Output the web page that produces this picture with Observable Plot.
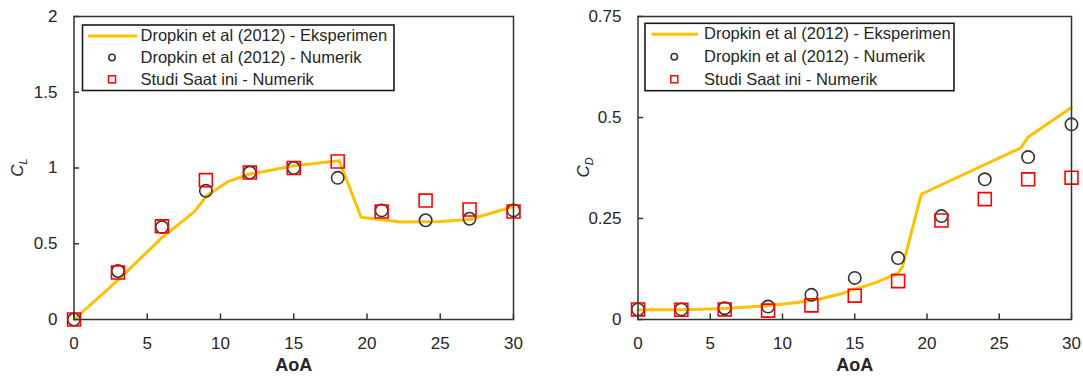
<!DOCTYPE html>
<html><head><meta charset="utf-8">
<script src="https://cdn.jsdelivr.net/npm/d3@7"></script>
<script src="https://cdn.jsdelivr.net/npm/@observablehq/plot@0.6"></script>
<style>
body{margin:0;background:#fff;font-family:"Liberation Sans",Arial,sans-serif;}
#wrap{position:relative;width:1083px;height:383px;overflow:hidden;background:#fff;}
.panel{position:absolute;top:0;}
</style></head><body>
<div id="wrap"><div id="p1" class="panel" style="left:0"></div><div id="p2" class="panel" style="left:540px"></div></div>
<script>
// ---- data ----
const aoa = [0, 3, 6, 9, 12, 15, 18, 21, 24, 27, 30];
const clDropkinNum = [0, 0.32, 0.61, 0.85, 0.97, 1.0, 0.935, 0.72, 0.655, 0.665, 0.72];
const clStudi = [0, 0.31, 0.615, 0.92, 0.97, 1.0, 1.043, 0.713, 0.785, 0.726, 0.713];
const clExpAoA = [0, 3, 6, 8.2, 9.1, 10.5, 11.8, 15, 18.1, 19.6, 22.3, 25, 27, 30];
const clExp = [0, 0.26, 0.54, 0.71, 0.82, 0.91, 0.955, 1.015, 1.048, 0.675, 0.643, 0.647, 0.66, 0.745];

const cdDropkinNum = [0.025, 0.025, 0.028, 0.032, 0.061, 0.103, 0.152, 0.256, 0.347, 0.402, 0.483];
const cdStudi = [0.025, 0.024, 0.025, 0.022, 0.035, 0.059, 0.095, 0.245, 0.298, 0.347, 0.351];
const cdExpAoA = [0, 3, 6, 9, 11, 12.5, 14, 15, 16.5, 18, 18.3, 19.6, 26.5, 27, 30];
const cdExp = [0.024, 0.024, 0.027, 0.034, 0.042, 0.05, 0.063, 0.075, 0.092, 0.115, 0.13, 0.31, 0.425, 0.452, 0.525];

const xTicks = [0, 5, 10, 15, 20, 25, 30];
const xTickLabels = ["0", "5", "10", "15", "20", "25", "30"];
const clTicks = [0, 0.5, 1, 1.5, 2];
const clTickLabels = ["0", "0.5", "1", "1.5", "2"];
const cdTicks = [0, 0.25, 0.5, 0.75];
const cdTickLabels = ["0", "0.25", "0.5", "0.75"];
const legendLabels = ["Dropkin et al (2012) - Eksperimen", "Dropkin et al (2012) - Numerik", "Studi Saat ini - Numerik"];
const xTitle = "AoA";

const colors = {exp: "#FFC000", num: "#333333", studi: "#FF0000", ink: "#262626", axis: "#333333"};
const FONT = "'Liberation Sans', Arial, sans-serif";

function makePanel(o) {
  const marginTop = 16, marginBottom = 64, height = 383;
  const innerW = o.width - o.marginLeft - o.marginRight;
  const innerH = height - marginTop - marginBottom;
  const expData = o.expX.map((x, i) => ({x, y: o.expY[i]}));
  const numData = aoa.map((x, i) => ({x, y: o.numY[i]}));
  const studiData = aoa.map((x, i) => ({x, y: o.studiY[i]}));
  const chart = Plot.plot({
    width: o.width, height, marginLeft: o.marginLeft, marginRight: o.marginRight, marginTop, marginBottom,
    style: {fontFamily: FONT, fontSize: "17px", color: colors.ink, background: "white", overflow: "visible"},
    x: {domain: [0, 30]},
    y: {domain: o.yDomain},
    marks: [
      Plot.axisX(xTicks, {tickSize: 0, tickPadding: 17, tickFormat: d => xTickLabels[xTicks.indexOf(d)], label: null}),
      Plot.axisY(o.yTicks, {tickSize: 0, tickPadding: 16.5, tickFormat: d => o.yTickLabels[o.yTicks.indexOf(d)], label: null}),
      Plot.tickX(xTicks, {x: d => d, insetTop: innerH - 5.5, stroke: colors.axis, strokeWidth: 1.5}),
      Plot.tickY(o.yTicks, {y: d => d, insetRight: innerW - 5.5, stroke: colors.axis, strokeWidth: 1.5}),
      Plot.line(expData, {x: "x", y: "y", stroke: colors.exp, strokeWidth: 3, strokeLinejoin: "round"}),
      Plot.dot(numData, {x: "x", y: "y", r: 6.2, stroke: colors.num, strokeWidth: 1.6, fill: "none"}),
      Plot.dot(studiData, {x: "x", y: "y", symbol: "square", r: 7.3, stroke: colors.studi, strokeWidth: 1.6, fill: "none"}),
      Plot.frame({stroke: colors.axis, strokeWidth: 1.5}),
      Plot.text([xTitle], {frameAnchor: "bottom", dy: 51, fontWeight: "bold", fontSize: 18, fill: colors.ink})
    ]
  });
  const svg = d3.select(chart);
  // y-axis title with subscript
  const t = svg.append("text")
    .attr("transform", `translate(${o.yLabelX},${marginTop + innerH / 2}) rotate(-90)`)
    .attr("text-anchor", "middle").attr("font-family", FONT).attr("font-size", 17)
    .attr("font-style", "italic").attr("fill", colors.ink);
  t.append("tspan").text(o.yLabelMain);
  t.append("tspan").attr("font-size", 11).attr("dy", "0.35em").text(o.yLabelSub);
  // legend
  const L = o.legend;
  const g = svg.append("g").attr("text-anchor", "start");
  g.append("rect").attr("x", L.x).attr("y", L.y).attr("width", L.w).attr("height", L.h)
    .attr("fill", "white").attr("stroke", "#1a1a1a").attr("stroke-width", 1.6);
  g.append("line").attr("x1", L.lx1).attr("x2", L.lx2).attr("y1", L.rows[0] + 1).attr("y2", L.rows[0] + 1)
    .attr("stroke", colors.exp).attr("stroke-width", 3);
  g.append("circle").attr("cx", L.mx).attr("cy", L.rows[1]).attr("r", 3.2)
    .attr("fill", "none").attr("stroke", colors.num).attr("stroke-width", 1.5);
  g.append("rect").attr("x", L.mx - 3.5).attr("y", L.rows[2] - 3.5).attr("width", 7).attr("height", 7)
    .attr("fill", "none").attr("stroke", colors.studi).attr("stroke-width", 1.5);
  legendLabels.forEach((s, i) => {
    g.append("text").attr("x", L.tx).attr("y", L.rows[i]).attr("dy", "0.35em")
      .attr("text-anchor", "start")
      .attr("font-family", FONT).attr("font-size", 16.5).attr("fill", colors.ink).text(s);
  });
  return chart;
}

document.getElementById("p1").appendChild(makePanel({
  width: 540, marginLeft: 73.5, marginRight: 27,
  yDomain: [0, 2], yTicks: clTicks, yTickLabels: clTickLabels,
  expX: clExpAoA, expY: clExp, numY: clDropkinNum, studiY: clStudi,
  yLabelMain: "C", yLabelSub: "L", yLabelX: 23,
  legend: {x: 82.5, y: 25, w: 311.5, h: 65.5, lx1: 88, lx2: 137, mx: 112, tx: 140.5, rows: [35, 57.5, 79.3]}
}));
document.getElementById("p2").appendChild(makePanel({
  width: 543, marginLeft: 97.5, marginRight: 12,
  yDomain: [0, 0.75], yTicks: cdTicks, yTickLabels: cdTickLabels,
  expX: cdExpAoA, expY: cdExp, numY: cdDropkinNum, studiY: cdStudi,
  yLabelMain: "C", yLabelSub: "D", yLabelX: 49,
  legend: {x: 105, y: 23.3, w: 309, h: 67.4, lx1: 111.5, lx2: 158, mx: 134.3, tx: 164, rows: [33.3, 56.7, 79.3]}
}));
</script></body></html>
